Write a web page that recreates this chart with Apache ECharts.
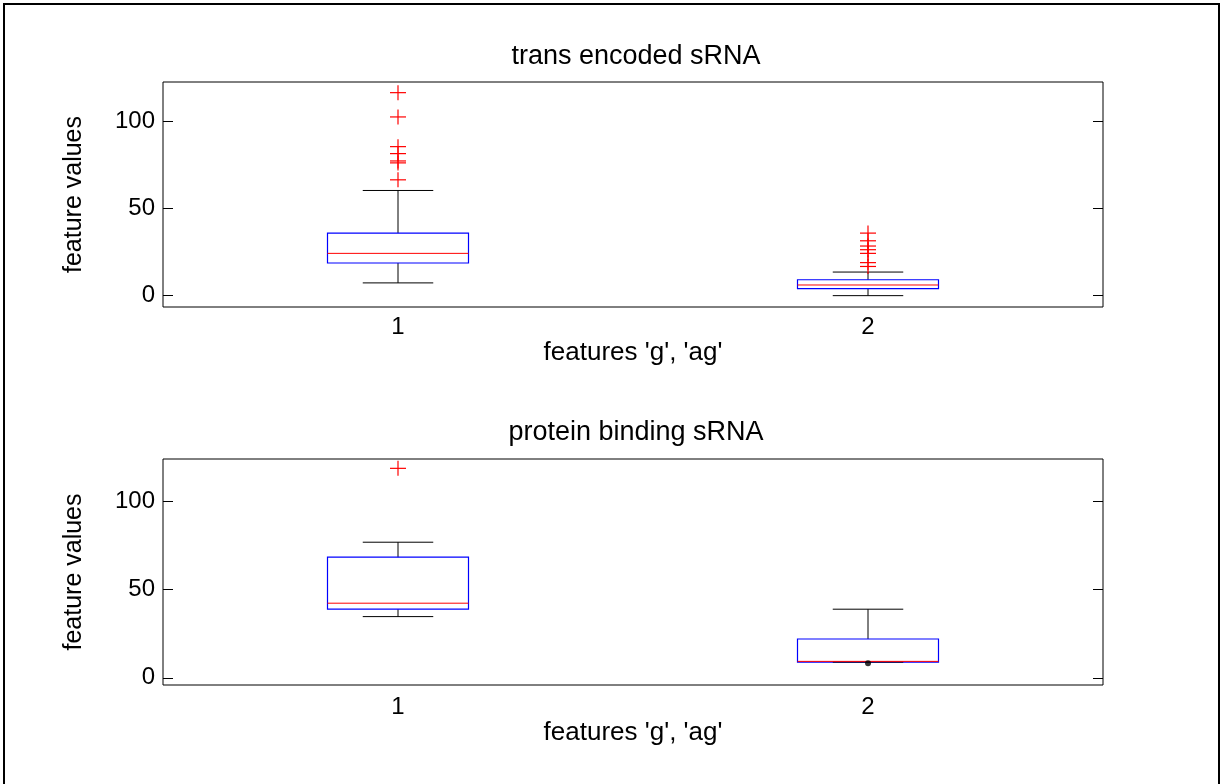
<!DOCTYPE html>
<html>
<head>
<meta charset="utf-8">
<title>sRNA feature boxplots</title>
<script src="https://cdn.jsdelivr.net/npm/echarts@6/dist/echarts.min.js"></script>
<style>
  html, body { margin: 0; padding: 0; background: #fff; }
  #chart { width: 1225px; height: 784px; }
</style>
</head>
<body>
<div id="chart"></div>
<script>
// Feature groups on the x axis
const categories = ['1', '2'];
const yTicks = [0, 50, 100];

// Box statistics per group: [lower whisker, Q1, median, Q3, upper whisker]
const transStats = [
  [7.3, 18.7, 24.2, 35.8, 60.2],
  [0.0, 4.0, 6.1, 9.1, 13.5]
];
const transOutliers1 = [116.2, 102.3, 85.3, 81.3, 77.1, 76.0, 66.3];
const transOutliers2 = [35.8, 31.4, 28.4, 26.3, 24.2, 18.9, 16.7];
const transRange = [-6.5, 122.3];

const protStats = [
  [34.7, 38.9, 42.3, 68.4, 76.9],
  [8.9, 8.9, 9.3, 22.0, 38.9]
];
const protOutliers1 = [118.8];
const protOutliers2 = [];
const protPoints2 = [8.2];
const protRange = [-4.1, 124.1];

const FONT = '"Liberation Sans", Arial, sans-serif';

function boxRows(stats) {
  return stats.map((s, i) => [i].concat(s));
}
function outlierRows(lists) {
  const rows = [];
  lists.forEach((vals, i) => vals.forEach(v => rows.push([i, v])));
  return rows;
}

// Box, whiskers, caps and median drawn through the axis scales
function renderBox(params, api) {
  const x = api.value(0);
  const low = api.coord([x, api.value(1)]);
  const q1 = api.coord([x, api.value(2)]);
  const med = api.coord([x, api.value(3)]);
  const q3 = api.coord([x, api.value(4)]);
  const high = api.coord([x, api.value(5)]);
  const band = api.size([1, 0])[0];
  const hb = band * 0.15;
  const hc = band * 0.075;
  const cx = low[0];
  const black = { stroke: '#000', lineWidth: 1, fill: null };
  return {
    type: 'group',
    children: [
      { type: 'line', shape: { x1: cx, y1: q3[1], x2: cx, y2: high[1] }, style: black },
      { type: 'line', shape: { x1: cx, y1: low[1], x2: cx, y2: q1[1] }, style: black },
      { type: 'line', shape: { x1: cx - hc, y1: high[1], x2: cx + hc, y2: high[1] }, style: black },
      { type: 'rect', shape: { x: cx - hb, y: q3[1], width: 2 * hb, height: q1[1] - q3[1] },
        style: { stroke: '#0000ff', lineWidth: 1.2, fill: null } },
      { type: 'line', shape: { x1: cx - hc, y1: low[1], x2: cx + hc, y2: low[1] }, style: black },
      { type: 'line', shape: { x1: cx - hb, y1: med[1], x2: cx + hb, y2: med[1] },
        style: { stroke: '#ff0000', lineWidth: 1, fill: null } }
    ]
  };
}

// '+' markers for outlying values
function renderPlus(params, api) {
  const p = api.coord([api.value(0), api.value(1)]);
  const red = { stroke: '#ff0000', lineWidth: 1.2, fill: null };
  return {
    type: 'group',
    children: [
      { type: 'line', shape: { x1: p[0] - 8, y1: p[1], x2: p[0] + 8, y2: p[1] }, style: red },
      { type: 'line', shape: { x1: p[0], y1: p[1] - 7.5, x2: p[0], y2: p[1] + 7.5 }, style: red }
    ]
  };
}

function xAxisFor(gridIndex, labelMargin, nameGap) {
  return {
    gridIndex: gridIndex,
    type: 'category',
    data: categories,
    axisLine: { show: false },
    axisTick: { show: false },
    splitLine: { show: false },
    axisLabel: { fontSize: 24, color: '#000', fontFamily: FONT, margin: labelMargin },
    name: "features 'g', 'ag'",
    nameLocation: 'middle',
    nameGap: nameGap,
    nameTextStyle: { fontSize: 26, color: '#000', fontFamily: FONT }
  };
}

function yAxisFor(gridIndex, range, right) {
  const ax = {
    gridIndex: gridIndex,
    type: 'value',
    min: range[0],
    max: range[1],
    position: right ? 'right' : 'left',
    axisLine: { show: false },
    splitLine: { show: false },
    axisTick: { show: true, inside: true, length: 10, customValues: yTicks,
                lineStyle: { color: '#000', width: 1 } },
    axisLabel: right ? { show: false } :
      { customValues: yTicks, fontSize: 24, color: '#000', fontFamily: FONT, margin: 8 }
  };
  if (!right) {
    ax.name = 'feature values';
    ax.nameLocation = 'middle';
    ax.nameGap = 76;
    ax.nameRotate = 90;
    ax.nameTextStyle = { fontSize: 25, color: '#000', fontFamily: FONT };
  }
  return ax;
}

const chart = echarts.init(document.getElementById('chart'), null, { renderer: 'canvas' });

chart.setOption({
  animation: false,
  backgroundColor: '#fff',
  graphic: [
    { type: 'rect', z: -10, shape: { x: 4, y: 4, width: 1215, height: 800 },
      style: { fill: null, stroke: '#000', lineWidth: 2 } }
  ],
  title: [
    { text: 'trans encoded sRNA', left: 631, top: 38, textAlign: 'center',
      textStyle: { fontSize: 27, fontWeight: 'normal', color: '#000', fontFamily: FONT } },
    { text: 'protein binding sRNA', left: 631, top: 414, textAlign: 'center',
      textStyle: { fontSize: 27, fontWeight: 'normal', color: '#000', fontFamily: FONT } }
  ],
  grid: [
    { left: 163, top: 82, width: 940, height: 225, show: true, borderColor: '#000', borderWidth: 1, backgroundColor: '#fff' },
    { left: 163, top: 459, width: 940, height: 226, show: true, borderColor: '#000', borderWidth: 1, backgroundColor: '#fff' }
  ],
  xAxis: [xAxisFor(0, 8, 32), xAxisFor(1, 10, 33)],
  yAxis: [
    yAxisFor(0, transRange, false), yAxisFor(0, transRange, true),
    yAxisFor(1, protRange, false), yAxisFor(1, protRange, true)
  ],
  series: [
    { type: 'custom', xAxisIndex: 0, yAxisIndex: 0, renderItem: renderBox,
      encode: { x: 0, y: [1, 2, 3, 4, 5] }, data: boxRows(transStats) },
    { type: 'custom', xAxisIndex: 0, yAxisIndex: 0, renderItem: renderPlus,
      encode: { x: 0, y: 1 }, data: outlierRows([transOutliers1, transOutliers2]) },
    { type: 'custom', xAxisIndex: 1, yAxisIndex: 2, renderItem: renderBox,
      encode: { x: 0, y: [1, 2, 3, 4, 5] }, data: boxRows(protStats) },
    { type: 'custom', xAxisIndex: 1, yAxisIndex: 2, renderItem: renderPlus,
      encode: { x: 0, y: 1 }, data: outlierRows([protOutliers1, protOutliers2]) },
    { type: 'scatter', xAxisIndex: 1, yAxisIndex: 2, symbol: 'circle', symbolSize: 6,
      itemStyle: { color: '#000' }, data: protPoints2.map(v => [1, v]) }
  ]
});
</script>
</body>
</html>
